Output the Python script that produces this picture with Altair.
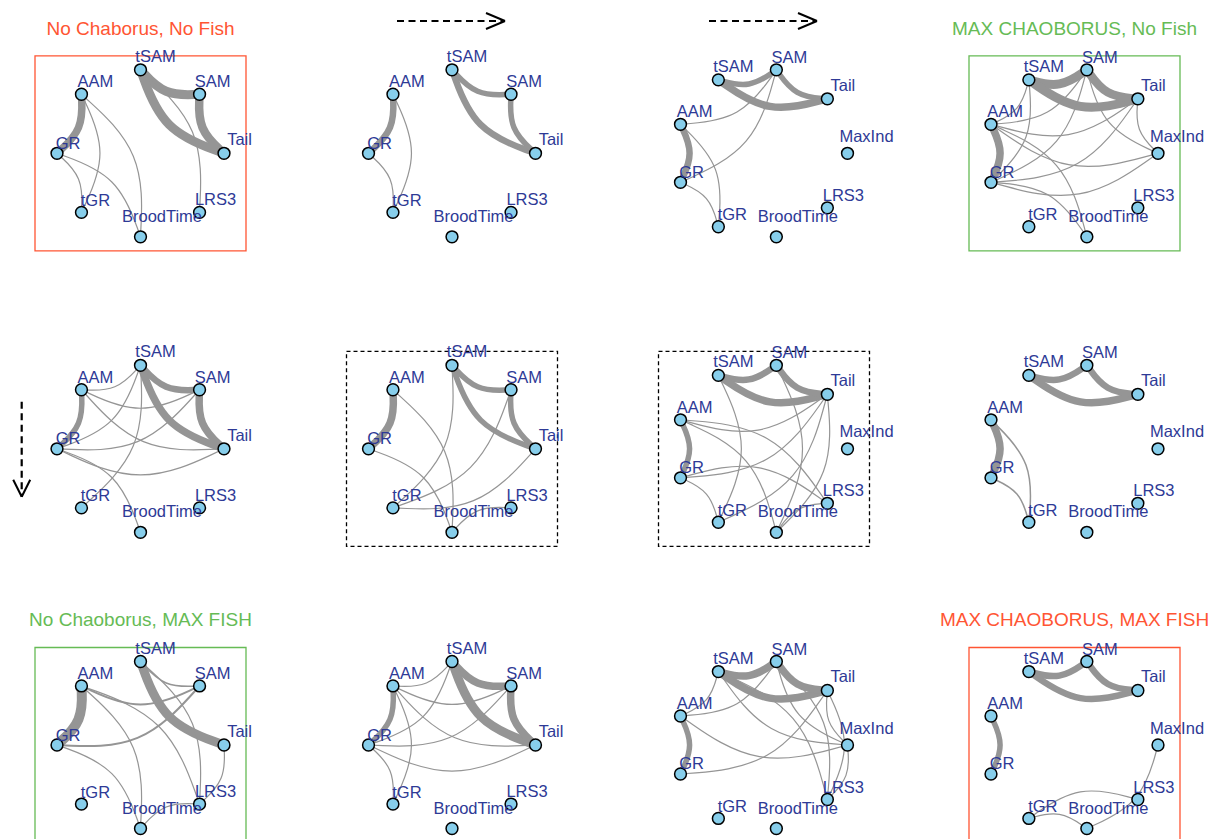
import math
import altair as alt
import pandas as pd

# ---------------- data ----------------
NODES8 = ["Tail", "SAM", "tSAM", "AAM", "GR", "tGR", "BroodTime", "LRS3"]
NODES9 = ["MaxInd", "Tail", "SAM", "tSAM", "AAM", "GR", "tGR", "BroodTime", "LRS3"]

# edges per panel (row, col): (node a, node b, edge width)
E11 = [("tSAM", "SAM", 9), ("tSAM", "Tail", 9), ("SAM", "Tail", 8.5), ("AAM", "GR", 7.5),
       ("AAM", "tGR", 1.2), ("AAM", "BroodTime", 1.2), ("GR", "tGR", 1.2),
       ("GR", "BroodTime", 1.2), ("tSAM", "LRS3", 1.2)]
E12 = [("tSAM", "SAM", 5.5), ("tSAM", "Tail", 6.5), ("SAM", "Tail", 5.5), ("AAM", "GR", 6.5),
       ("AAM", "tGR", 1.2), ("GR", "tGR", 1.2)]
E13 = [("tSAM", "SAM", 5.5), ("tSAM", "Tail", 7.5), ("SAM", "Tail", 5.5), ("AAM", "GR", 6.5),
       ("AAM", "SAM", 1.2), ("GR", "SAM", 1.2), ("AAM", "tGR", 1.2), ("GR", "tGR", 1.2)]
E14 = [("tSAM", "SAM", 9), ("tSAM", "Tail", 9), ("SAM", "Tail", 8.5), ("AAM", "GR", 7.5),
       ("AAM", "SAM", 1.2), ("AAM", "Tail", 1.2), ("AAM", "MaxInd", 1.2), ("AAM", "BroodTime", 1.2),
       ("GR", "SAM", 1.2), ("GR", "Tail", 1.2), ("GR", "MaxInd", 1.2), ("GR", "BroodTime", 1.2),
       ("GR", "tSAM", 1.2), ("AAM", "tSAM", 1.2), ("SAM", "MaxInd", 1.2), ("Tail", "MaxInd", 1.2)]
E21 = [("tSAM", "SAM", 6.5), ("tSAM", "Tail", 7.5), ("SAM", "Tail", 7.5), ("AAM", "GR", 5.5),
       ("AAM", "tSAM", 1.2), ("AAM", "Tail", 1.2), ("GR", "tSAM", 1.2), ("GR", "SAM", 1.2),
       ("GR", "Tail", 1.2), ("tSAM", "tGR", 1.2), ("GR", "BroodTime", 1.2), ("AAM", "SAM", 1.2)]
E22 = [("tSAM", "SAM", 5.5), ("tSAM", "Tail", 5.5), ("SAM", "Tail", 5.5), ("AAM", "GR", 7.5),
       ("AAM", "BroodTime", 1.2), ("GR", "BroodTime", 1.2), ("tSAM", "tGR", 1.2),
       ("SAM", "tGR", 1.2), ("Tail", "tGR", 1.2), ("BroodTime", "LRS3", 1.2)]
E23 = [("tSAM", "SAM", 6.5), ("tSAM", "Tail", 7.5), ("SAM", "Tail", 6.5), ("AAM", "GR", 5.5),
       ("AAM", "LRS3", 1.2), ("AAM", "BroodTime", 1.2), ("AAM", "Tail", 1.2), ("GR", "Tail", 1.2),
       ("GR", "LRS3", 1.2), ("tSAM", "tGR", 1.2), ("SAM", "BroodTime", 1.2), ("Tail", "tGR", 1.2),
       ("Tail", "BroodTime", 1.2), ("GR", "tGR", 1.2), ("BroodTime", "LRS3", 1.2)]
E24 = [("tSAM", "SAM", 6.5), ("tSAM", "Tail", 7.5), ("SAM", "Tail", 6.5), ("AAM", "GR", 7.5),
       ("AAM", "tGR", 1.5), ("GR", "tGR", 1.5)]
E31 = [("tSAM", "Tail", 9), ("AAM", "GR", 10), ("tSAM", "SAM", 1.5), ("AAM", "SAM", 2),
       ("GR", "SAM", 2), ("AAM", "LRS3", 1.2), ("AAM", "BroodTime", 1.2), ("GR", "BroodTime", 1.2),
       ("tSAM", "LRS3", 1.2), ("Tail", "LRS3", 1.2), ("BroodTime", "LRS3", 1.2)]
E32 = [("tSAM", "SAM", 7.5), ("tSAM", "Tail", 9), ("SAM", "Tail", 7.5), ("AAM", "GR", 5.5),
       ("AAM", "tSAM", 1.2), ("AAM", "SAM", 1.2), ("AAM", "Tail", 1.2), ("GR", "tSAM", 1.2),
       ("GR", "SAM", 1.2), ("GR", "Tail", 1.2), ("AAM", "tGR", 1.2), ("GR", "tGR", 1.2)]
E33 = [("tSAM", "SAM", 7.5), ("tSAM", "Tail", 7.5), ("SAM", "Tail", 7.5), ("AAM", "GR", 5.5),
       ("AAM", "tSAM", 1.2), ("AAM", "SAM", 1.2), ("AAM", "MaxInd", 1.2), ("GR", "Tail", 1.2),
       ("tSAM", "MaxInd", 1.2), ("tSAM", "LRS3", 1.2), ("SAM", "MaxInd", 1.2), ("SAM", "LRS3", 1.2),
       ("Tail", "MaxInd", 1.2), ("Tail", "LRS3", 1.2), ("MaxInd", "LRS3", 1.2)]
E34 = [("tSAM", "SAM", 6.5), ("tSAM", "Tail", 6.5), ("SAM", "Tail", 6.5), ("AAM", "GR", 5.5),
       ("tGR", "LRS3", 1.2), ("tGR", "BroodTime", 1.2), ("BroodTime", "MaxInd", 1.2)]

PANEL_EDGES = {(0, 0): E11, (0, 1): E12, (0, 2): E13, (0, 3): E14,
               (1, 0): E21, (1, 1): E22, (1, 2): E23, (1, 3): E24,
               (2, 0): E31, (2, 1): E32, (2, 2): E33, (2, 3): E34}

RED = "#FF5533"
GREEN = "#66BB55"
TITLES = {(0, 0): ("No Chaborus, No Fish", RED),
          (0, 3): ("MAX CHAOBORUS, No Fish", GREEN),
          (2, 0): ("No Chaoborus, MAX FISH", GREEN),
          (2, 3): ("MAX CHAOBORUS, MAX FISH", RED)}
BOXES = {(0, 0): (RED, "solid"), (0, 3): (GREEN, "solid"),
         (1, 1): ("black", "dashed"), (1, 2): ("black", "dashed"),
         (2, 0): (GREEN, "solid"), (2, 3): (RED, "solid")}
ARROWS = [((0, 1), "h"), ((0, 2), "h"), ((1, 0), "v")]

# ---------------- layout / style ----------------
COL_X = [140.5, 452.0, 764.0, 1074.5]
ROW_Y = [153.3, 448.8, 745.0]
HALF = 83.5
CURVE = 0.47
LABEL_OFF = {"tSAM": (15, -8), "SAM": (13, -7), "Tail": (15.5, -8), "LRS3": (16, -7),
             "BroodTime": (21.5, -15), "tGR": (14, -6.5), "GR": (11, -4.5),
             "AAM": (14, -7), "MaxInd": (19, -11.5)}
EDGE_COLOR = "#959595"
LABEL_COLOR = "#2E3A96"
FONT = "Liberation Sans"


def circle_layout(names):
    n = len(names)
    xs = [math.cos(2 * math.pi * i / n) for i in range(n)]
    ys = [math.sin(2 * math.pi * i / n) for i in range(n)]

    def norm(v):
        lo, hi = min(v), max(v)
        return [2 * (t - lo) / (hi - lo) - 1 for t in v]
    return dict(zip(names, zip(norm(xs), norm(ys))))


node_rows, label_rows, edge_rows = [], [], []
eid = 0
for (r, c), edges in PANEL_EDGES.items():
    names = NODES8 if c < 2 else NODES9
    lay = circle_layout(names)
    cx, cy = COL_X[c], ROW_Y[r]

    def to_page(p):
        return cx + HALF * p[0], cy - HALF * p[1]

    for nm in names:
        px, py = to_page(lay[nm])
        node_rows.append({"x": px, "y": py})
        dx, dy = LABEL_OFF[nm]
        label_rows.append({"x": px + dx, "y": py + dy, "label": nm})
    for a, b, w in edges:
        if names.index(a) > names.index(b):
            a, b = b, a
        (x1, y1), (x2, y2) = lay[a], lay[b]
        mx, my = (x1 + x2) / 2, (y1 + y2) / 2
        ctrl = (mx - CURVE / 2 * (y2 - y1), my + CURVE / 2 * (x2 - x1))
        for k, p in enumerate([(x1, y1), ctrl, (x2, y2)]):
            px, py = to_page(p)
            edge_rows.append({"eid": eid, "k": k, "x": px, "y": py, "w": w})
        eid += 1

box_rows = []
for (r, c), (col, style) in BOXES.items():
    box_rows.append({"x": COL_X[c] - 105.5, "x2": COL_X[c] + 105.5,
                     "y": ROW_Y[r] - 97.5, "y2": ROW_Y[r] + 97.5,
                     "col": col, "style": style})

title_rows = [{"x": COL_X[c], "y": ROW_Y[r] - 118.8, "t": t, "col": col}
              for (r, c), (t, col) in TITLES.items()]

arrow_lines, arrow_heads = [], []
for (r, c), kind in ARROWS:
    if kind == "h":
        x0, x1, y = COL_X[c] - 55, COL_X[c] + 53, 21.0
        arrow_lines.append({"x": x0, "x2": x1, "y": y, "y2": y})
        for s in (-1, 1):
            arrow_heads.append({"x": x1 - 19, "x2": x1, "y": y + s * 8, "y2": y})
    else:
        x, y0, y1 = 21.7, ROW_Y[r] - 47, ROW_Y[r] + 48
        arrow_lines.append({"x": x, "x2": x, "y": y0, "y2": y1})
        for s in (-1, 1):
            arrow_heads.append({"x": x + s * 8.5, "x2": x, "y": y1 - 17, "y2": y1})

W, H = 1200, 831
xs = alt.Scale(domain=[8, 8 + W], nice=False, zero=False)
ys = alt.Scale(domain=[8 + H, 8], nice=False, zero=False)
X = lambda f="x": alt.X(f"{f}:Q", scale=xs, axis=None)
Y = lambda f="y": alt.Y(f"{f}:Q", scale=ys, axis=None)

box_df = pd.DataFrame(box_rows)
boxes_solid = alt.Chart(box_df[box_df["style"] == "solid"]).mark_rect(
    fillOpacity=0, strokeWidth=1.3).encode(
    x=X(), x2="x2:Q", y=Y(), y2="y2:Q", stroke=alt.Stroke("col:N", scale=None))
boxes_dash = alt.Chart(box_df[box_df["style"] == "dashed"]).mark_rect(
    fillOpacity=0, strokeWidth=1.3, strokeDash=[4, 3]).encode(
    x=X(), x2="x2:Q", y=Y(), y2="y2:Q", stroke=alt.Stroke("col:N", scale=None))

edges = alt.Chart(pd.DataFrame(edge_rows)).mark_line(
    interpolate="basis", color=EDGE_COLOR, strokeCap="butt").encode(
    x=X(), y=Y(), detail="eid:N", order="k:Q",
    strokeWidth=alt.StrokeWidth("w:Q", scale=None, legend=None))

nodes = alt.Chart(pd.DataFrame(node_rows)).mark_point(
    shape="circle", filled=True, size=140, fill="#87CEEB", stroke="black",
    strokeWidth=1.5, opacity=1).encode(x=X(), y=Y())

labels = alt.Chart(pd.DataFrame(label_rows)).mark_text(
    font=FONT, fontSize=16.5, color=LABEL_COLOR, align="center", baseline="alphabetic").encode(
    x=X(), y=Y(), text="label:N")

titles = alt.Chart(pd.DataFrame(title_rows)).mark_text(
    font=FONT, fontSize=19, align="center", baseline="alphabetic").encode(
    x=X(), y=Y(), text="t:N", color=alt.Color("col:N", scale=None))

arrows = alt.Chart(pd.DataFrame(arrow_lines)).mark_rule(
    color="black", strokeWidth=2.2, strokeDash=[7, 4.5]).encode(
    x=X(), x2="x2:Q", y=Y(), y2="y2:Q")
heads = alt.Chart(pd.DataFrame(arrow_heads)).mark_rule(
    color="black", strokeWidth=2).encode(x=X(), x2="x2:Q", y=Y(), y2="y2:Q")

chart = alt.layer(boxes_solid, boxes_dash, edges, nodes, labels, titles, arrows, heads).properties(
    width=W, height=H, padding=0, autosize=alt.AutoSizeParams(type="none")
).configure_view(stroke=None)

chart.save("out.html", embed_options={"renderer": "svg", "actions": False})
